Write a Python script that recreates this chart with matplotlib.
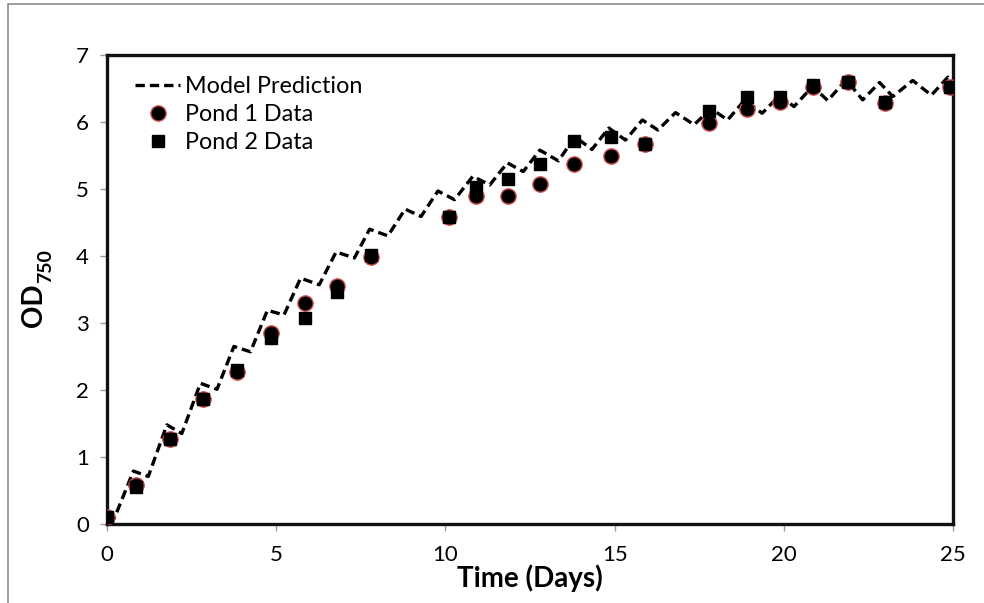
import matplotlib
matplotlib.use("Agg")
import matplotlib.pyplot as plt
from matplotlib.patches import Rectangle

plt.rcParams['font.family'] = ['Lato', 'DejaVu Sans']

# modelo: picos e vales diarios
model_t = [0.0, 0.22, 0.78, 1.22, 1.77, 2.21, 2.76, 3.25, 3.75, 4.24, 4.74, 5.23,
           5.72, 6.27, 6.77, 7.31, 7.76, 8.30, 8.81, 9.28, 9.78, 10.27, 10.81,
           11.31, 11.83, 12.30, 12.79, 13.34, 13.83, 14.33, 14.83, 15.32, 15.82,
           16.28, 16.80, 17.35, 17.85, 18.34, 18.85, 19.36, 19.88, 20.30, 20.85,
           21.30, 21.84, 22.33, 22.83, 23.22, 23.81, 24.36, 24.85, 25.0]
model_od = [0.04, 0.09, 0.79, 0.71, 1.48, 1.35, 2.10, 2.01, 2.65, 2.57, 3.19, 3.12,
            3.67, 3.57, 4.06, 3.97, 4.40, 4.30, 4.70, 4.59, 4.97, 4.84, 5.19,
            5.06, 5.39, 5.26, 5.58, 5.42, 5.78, 5.59, 5.91, 5.73, 6.03,
            5.88, 6.14, 5.96, 6.20, 6.03, 6.33, 6.13, 6.40, 6.23, 6.53,
            6.32, 6.63, 6.33, 6.59, 6.38, 6.62, 6.40, 6.67, 6.58]

# dados das lagoas
dias = [0.0, 0.85, 1.85, 2.85, 3.85, 4.85, 5.85, 6.8, 7.8, 10.1, 10.9, 11.85,
        12.8, 13.8, 14.9, 15.9, 17.8, 18.9, 19.9, 20.85, 21.9, 23.0, 24.9]
lagoa1 = [0.10, 0.58, 1.27, 1.87, 2.27, 2.85, 3.30, 3.55, 3.98, 4.58, 4.90, 4.90,
          5.07, 5.37, 5.50, 5.67, 5.98, 6.20, 6.30, 6.52, 6.60, 6.28, 6.52]
lagoa2 = [0.10, 0.55, 1.27, 1.87, 2.30, 2.78, 3.07, 3.47, 4.02, 4.58, 5.03, 5.15,
          5.37, 5.72, 5.78, 5.67, 6.17, 6.38, 6.38, 6.55, 6.60, 6.30, 6.52]

W, H = 984, 603
fig = plt.figure(figsize=(W / 100, H / 100), dpi=100)
# borda cinza da area do grafico
fig.patches.append(Rectangle((8/W, -0.05), 1.1, 1 - 4/H + 0.05,
                             transform=fig.transFigure, fill=False,
                             edgecolor='#8c8c8c', lw=1.2))
ax = fig.add_axes([107/W, 1 - 524/H, 846/W, 469/H])

ax.plot(model_t, model_od, color='black', lw=2.4, ls=(0, (2.8, 1.5)),
        label='Model Prediction', zorder=2)
ax.plot(dias, lagoa1, ls='none', marker='o', ms=11, mfc='black',
        mec='#d05050', mew=1.0, label='Pond 1 Data', zorder=3)
ax.plot(dias, lagoa2, ls='none', marker='s', ms=9, mfc='black',
        mec='black', label='Pond 2 Data', zorder=4)

ax.set_xlim(0, 25)
ax.set_ylim(0, 7)
ax.set_xticks(range(0, 26, 5))
ax.set_yticks(range(0, 8))
for s in ax.spines.values():
    s.set_linewidth(2.4)
    s.set_color('#111111')
ax.tick_params(axis='both', direction='out', length=5, width=1,
               color='#999999', labelsize=16, pad=8)
ax.tick_params(axis='x', pad=10)

ax.set_xlabel('Time (Days)', fontsize=20, fontweight='bold', labelpad=0)
# OD com subscrito em negrito (dois textos girados)
fig.text(34/W, 1 - 305/H, 'OD', rotation=90, fontsize=20, fontweight='bold',
         ha='center', va='center')
fig.text(46/W, 1 - 266/H, '750', rotation=90, fontsize=14, fontweight='bold',
         ha='center', va='center')

leg = ax.legend(loc='upper left', frameon=False, fontsize=16.8,
                bbox_to_anchor=(0.022, 0.975), handlelength=1.95,
                handletextpad=0.2, labelspacing=0.3, borderaxespad=0)

fig.savefig('out.png', dpi=100)
